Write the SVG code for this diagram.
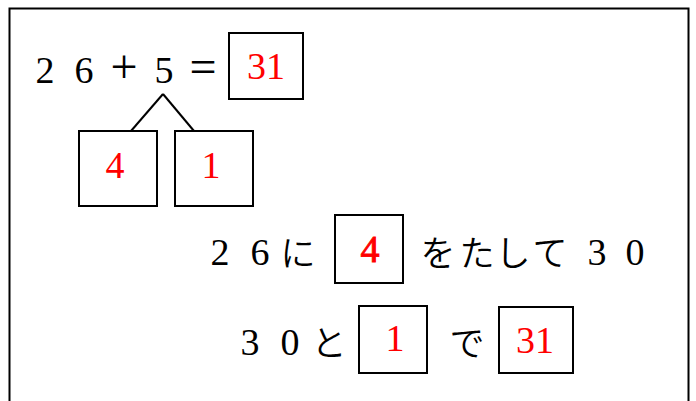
<svg xmlns="http://www.w3.org/2000/svg" width="696" height="401" viewBox="0 0 696 401">
<style>
.box{fill:#fff;stroke:#000;stroke-width:2}
.num{font-family:"Liberation Serif",serif;font-size:38px;fill:#000;text-anchor:middle}
.op{font-size:48px}
.kana{font-family:"Noto Sans CJK JP",sans-serif;font-size:35px;font-weight:350;fill:#000;text-anchor:middle}
.red{font-family:"Liberation Serif",serif;font-size:38px;fill:#ff0000;text-anchor:middle}
.conn{stroke:#000;stroke-width:2;fill:none}
</style>
<rect width="696" height="401" fill="#fff"/>
<rect id="frame" x="9.5" y="8.5" width="679" height="410" fill="none" stroke="#000" stroke-width="2"/>

<g id="equation">
<text class="num" x="45" y="83">2</text>
<text class="num" x="84" y="83">6</text>
<text class="num op" x="124" y="83">+</text>
<text class="num" x="164" y="83">5</text>
<text class="num op" x="203" y="83">=</text>
</g>

<g id="connectors">
<line class="conn" x1="163" y1="94" x2="131" y2="131"/>
<line class="conn" x1="163" y1="94" x2="194" y2="131"/>
</g>

<g id="answer-top">
<rect class="box" x="229" y="33" width="74" height="66"/>
<text class="red" x="266" y="79">31</text>
</g>
<g id="split-4">
<rect class="box" x="79" y="131" width="78" height="75"/>
<text class="red" x="115" y="178" font-size="40">4</text>
</g>
<g id="split-1">
<rect class="box" x="175" y="131" width="78" height="75"/>
<text class="red" x="211" y="178" font-size="40">1</text>
</g>

<g id="line2">
<text class="num" x="220" y="265">2</text>
<text class="num" x="260" y="265">6</text>
<text class="kana"><tspan x="298" y="266">に</tspan><tspan x="438" y="266">を</tspan><tspan x="477" y="266">た</tspan><tspan x="513" y="266">し</tspan><tspan x="550" y="266">て</tspan></text>
<text class="num" x="597" y="265">3</text>
<text class="num" x="635" y="265">0</text>
</g>
<g id="fill-4">
<rect class="box" x="335" y="215" width="68" height="68"/>
<text class="red" x="370" y="262" font-size="34" stroke="#ff0000" stroke-width="0.9">4</text>
</g>

<g id="line3">
<text class="num" x="250" y="355">3</text>
<text class="num" x="290" y="355">0</text>
<text class="kana"><tspan x="329" y="356">と</tspan><tspan x="467" y="356">で</tspan></text>
</g>
<g id="fill-1">
<rect class="box" x="359" y="306" width="68" height="67"/>
<text class="red" x="395" y="351" font-size="35">1</text>
</g>
<g id="fill-31">
<rect class="box" x="499" y="307" width="74" height="66"/>
<text class="red" x="535" y="353" font-size="35">31</text>
</g>
</svg>
